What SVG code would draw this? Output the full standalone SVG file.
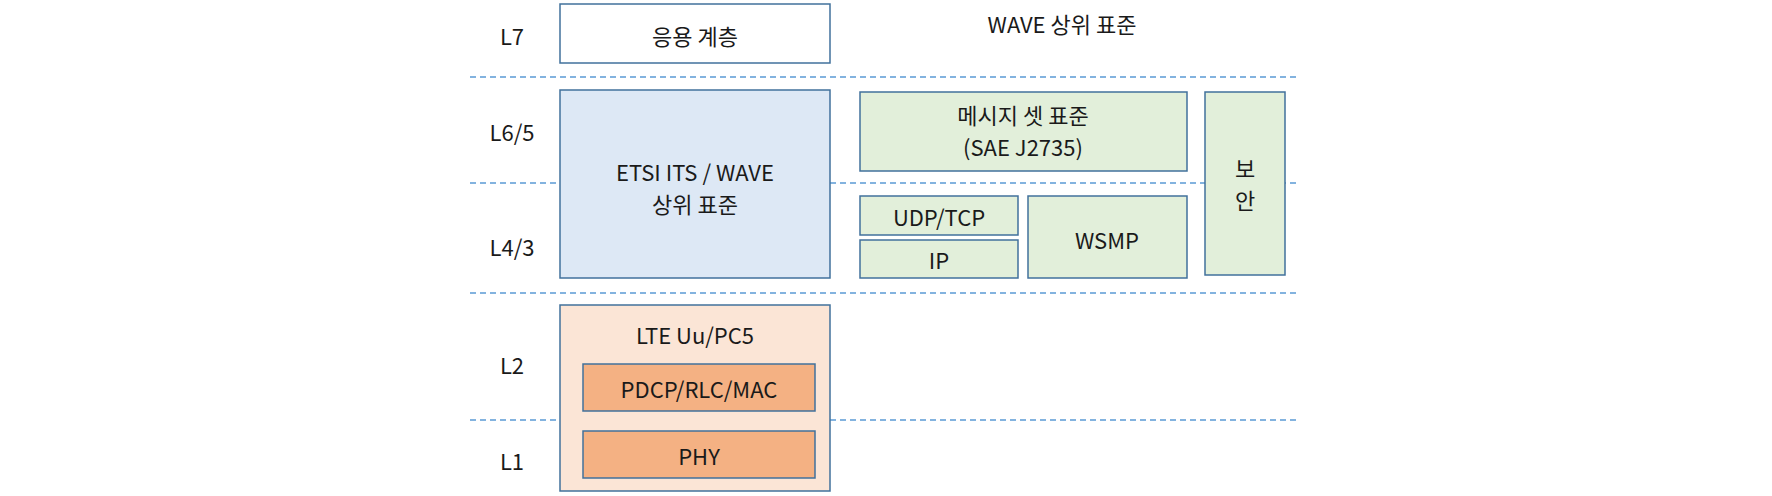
<svg xmlns="http://www.w3.org/2000/svg" width="1772" height="496" viewBox="0 0 1772 496">
<style>
text{font-family:"Noto Sans CJK KR","Noto Sans",sans-serif;font-size:22px;fill:#1a1a1a;text-anchor:middle;dominant-baseline:central}
.b{stroke:#41719c;stroke-width:1.5}
.g{fill:#e2efda}.o{fill:#f4b183}
line{stroke:#5b9bd5;stroke-width:1.5;stroke-dasharray:6 4}
</style>
<rect width="1772" height="496" fill="#fff"/>
<g id="connectors">
<line x1="470" y1="77" x2="1297" y2="77"/>
<line x1="470" y1="183" x2="1297" y2="183"/>
<line x1="470" y1="293" x2="1297" y2="293"/>
<line x1="470" y1="420" x2="1297" y2="420"/>
</g>
<g id="labels">
<text x="512" y="35">L7</text>
<text x="512" y="131">L6/5</text>
<text x="512" y="246">L4/3</text>
<text x="512" y="364">L2</text>
<text x="512" y="460">L1</text>
<text x="1062" y="23">WAVE 상위 표준</text>
</g>
<g id="app"><rect class="b" x="560" y="4" width="270" height="59" fill="#fff"/><text x="695" y="35">응용 계층</text></g>
<g id="etsi"><rect class="b" x="560" y="90" width="270" height="188" fill="#dde8f5"/><text x="695" y="171">ETSI ITS / WAVE</text><text x="695" y="203">상위 표준</text></g>
<g id="msg"><rect class="b g" x="860" y="92" width="327" height="79"/><text x="1023" y="114">메시지 셋 표준</text><text x="1023" y="146">(SAE J2735)</text></g>
<g id="sec"><rect class="b g" x="1205" y="92" width="80" height="183"/><text x="1245" y="167">보</text><text x="1245" y="199">안</text></g>
<g id="udp"><rect class="b g" x="860" y="196" width="158" height="39"/><text x="939" y="216">UDP/TCP</text></g>
<g id="ip"><rect class="b g" x="860" y="240" width="158" height="38"/><text x="939" y="259">IP</text></g>
<g id="wsmp"><rect class="b g" x="1028" y="196" width="159" height="82"/><text x="1107" y="239">WSMP</text></g>
<g id="lte"><rect class="b" x="560" y="305" width="270" height="186" fill="#fbe5d6"/><text x="695" y="334">LTE Uu/PC5</text></g>
<g id="pdcp"><rect class="b o" x="583" y="364" width="232" height="47"/><text x="699" y="388">PDCP/RLC/MAC</text></g>
<g id="phy"><rect class="b o" x="583" y="431" width="232" height="47"/><text x="699" y="455">PHY</text></g>
</svg>
